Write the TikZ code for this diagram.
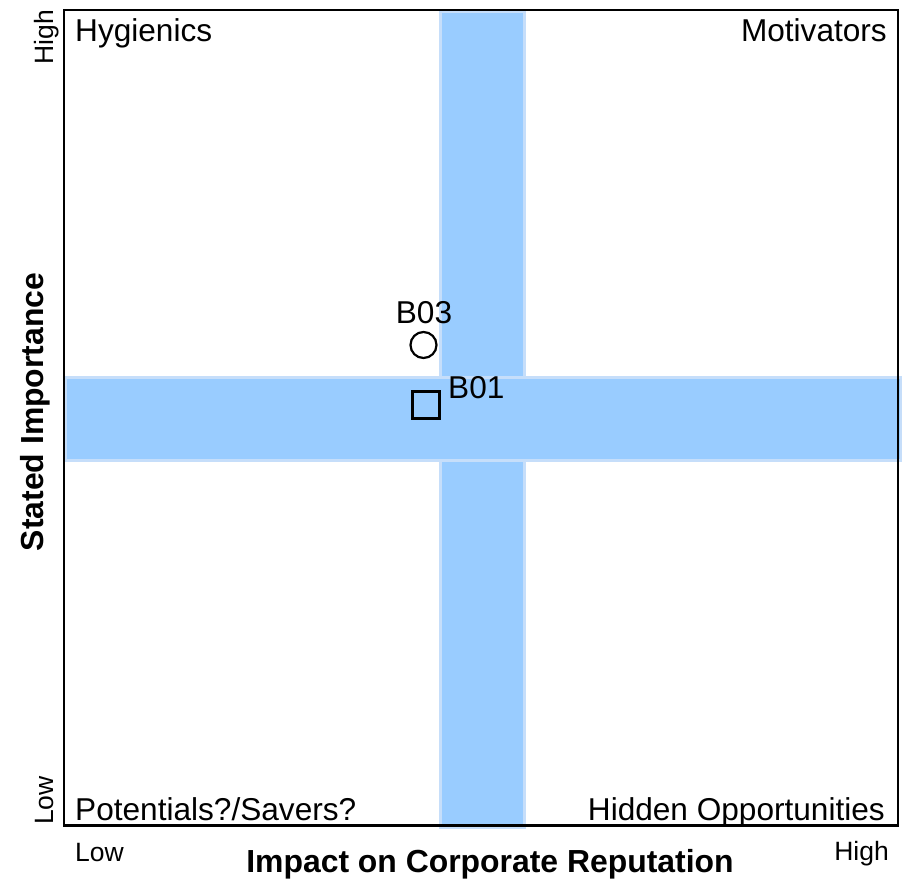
\documentclass[tikz,border=0pt]{standalone}
\usepackage{fontspec}
\setmainfont{Liberation Sans}
\definecolor{bandfill}{HTML}{99CCFF}
\definecolor{bandedge}{HTML}{C6DEFA}
\begin{document}
\begin{tikzpicture}[x=1pt,y=-1pt,
  band/.style={fill=bandfill,draw=bandedge,line width=2.5pt},
  frame/.style={draw=black,line width=2.5pt},
  big/.style={font=\fontsize{31.6}{36}\selectfont,inner sep=0pt},
  small/.style={font=\fontsize{26.5}{30}\selectfont,inner sep=0pt},
  title/.style={font=\fontsize{31.9}{36}\selectfont\bfseries,inner sep=0pt},
  marker/.style={draw=black,line width=2.2pt,fill=none,inner sep=0pt}]
\useasboundingbox (0,0) rectangle (906,881);
% bands
\draw[band] (440.5,11.5) rectangle (524.5,828);
\draw[band] (65.5,377.5) rectangle (901,460.5);
% frame
\draw[frame] (64,10) rectangle (898,825.5);
% quadrant labels
\node[big,anchor=base west] (hyg) at (75,41) {Hygienics};
\node[big,anchor=base east] (mot) at (887,41) {Motivators};
\node[big,anchor=base west] (pot) at (75,820) {Potentials?/Savers?};
\node[big,anchor=base east] (hid) at (885,820) {Hidden Opportunities};
% axis end labels
\node[small,anchor=base west] (xlow) at (75,861) {Low};
\node[small,anchor=base east] (xhigh) at (889,860) {High};
\node[small,anchor=base east,rotate=90] (yhigh) at (53,10) {High};
\node[small,anchor=base west,rotate=90] (ylow) at (53,825) {Low};
% axis titles
\node[title,anchor=base] (xtitle) at (490,872) {Impact on Corporate Reputation};
\node[title,anchor=base,rotate=90] (ytitle) at (43,412) {Stated Importance};
% markers
\node[marker,circle,minimum size=26pt] (b03) at (423.5,345) {};
\node[big,anchor=base] (b03lab) at (424,323) {B03};
\node[marker,rectangle,minimum size=27pt] (b01) at (426,405) {};
\node[big,anchor=base west] (b01lab) at (448,398) {B01};
\end{tikzpicture}
\end{document}
